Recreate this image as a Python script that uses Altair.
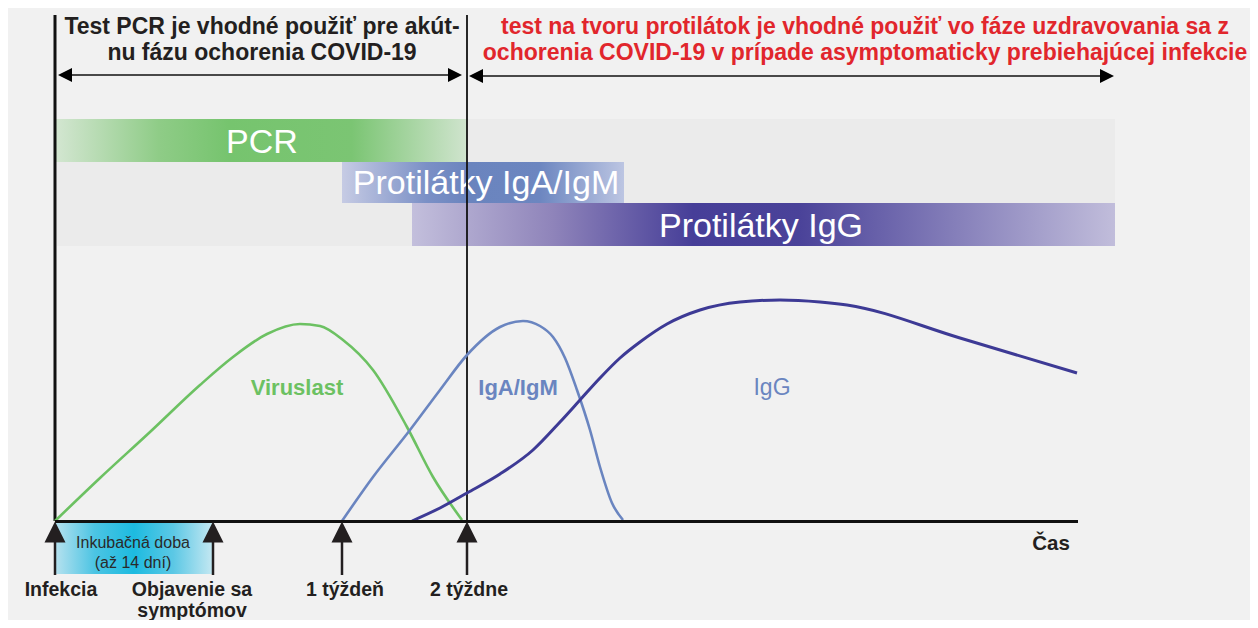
import altair as alt
import pandas as pd

# ---------------- data (diagram units: x = time position, y = level, top = 8) -------------
W, H = 1242, 612
X0, Y0 = 8, 8

# timeline marks
mark_x = [55, 213, 342, 467]
mark_labels = ["Infekcia", "Objavenie sa", "1 týždeň", "2 týždne"]
mark_labels2 = ["", "symptómov", "", ""]
mark_label_x = [61, 192, 345, 469]

# test-window bands
band_names = ["PCR", "Protilátky IgA/IgM", "Protilátky IgG"]
band_start = [56, 342, 412]
band_end = [467, 624, 1115]
band_top = [119, 162, 203]
band_bottom = [162, 203, 246]
band_label_x = [262, 486, 761]

# curves
vir_x = [55, 100, 150, 200, 233, 267, 300, 320, 343, 373, 407, 433, 462]
vir_y = [521, 478, 432, 385, 357, 334, 324, 326, 340, 370, 427, 477, 520]
iga_x = [342, 373, 410, 440, 467, 500, 523, 540, 553, 565, 577, 590, 600, 612, 623]
iga_y = [521, 477, 430, 390, 355, 327, 321, 326, 337, 358, 390, 430, 467, 503, 520]
igg_x = [412, 440, 467, 500, 533, 560, 580, 600, 620, 640, 667, 700, 740, 780, 820, 847, 960, 1077]
igg_y = [521, 508, 493, 474, 450, 422, 400, 378, 358, 342, 324, 310, 302, 300, 302, 305, 338, 373]
curve_names = ["Viruslast", "IgA/IgM", "IgG"]
curve_label_x = [297, 518, 772]
curve_colors = ["#6cc162", "#6a85c0", "#3d3a95"]
curve_label_colors = ["#6cc162", "#6a85c0", "#6a85c0"]

title_left = ["Test PCR je vhodné použiť pre akút-", "nu fázu ochorenia COVID-19"]
title_right = ["test na tvoru protilátok je vhodné použiť vo fáze uzdravovania sa z",
               "ochorenia COVID-19 v prípade asymptomaticky prebiehajúcej infekcie"]
incub_text = ["Inkubačná doba", "(až 14 dní)"]

FONT = "Liberation Sans"

xs = alt.Scale(domain=[X0, X0 + W], nice=False, zero=False)
ys = alt.Scale(domain=[Y0, Y0 + H], nice=False, zero=False, reverse=True)


def X(f):
    return alt.X(f, type="quantitative", scale=xs, axis=None)


def Y(f):
    return alt.Y(f, type="quantitative", scale=ys, axis=None)


def grad(stops):
    return alt.Gradient(gradient="linear", x1=0, x2=1, y1=0, y2=0,
                        stops=[alt.GradientStop(offset=o, color=c) for o, c in stops])


def rect(x1, x2, y1, y2, fill):
    df = pd.DataFrame({"x": [x1], "x2": [x2], "y": [y1], "y2": [y2]})
    return alt.Chart(df).mark_rect(color=fill, opacity=1).encode(
        x=X("x"), x2="x2", y=Y("y"), y2="y2")


def rules(df, color, width):
    return alt.Chart(df).mark_rule(color=color, strokeWidth=width).encode(
        x=X("x"), x2="x2", y=Y("y"), y2="y2")


def texts(df, size, color, weight="normal", align="center"):
    return alt.Chart(df).mark_text(font=FONT, fontSize=size, color=color, fontWeight=weight,
                                   align=align, baseline="alphabetic").encode(
        x=X("x"), y=Y("y"), text="text:N")


layers = []

# grey backdrop behind bands
layers.append(rect(57, band_end[2], band_top[0], band_bottom[2], "#ebebeb"))

band_grads = [
    grad([(0, "#d3e6d1"), (0.25, "#8fcc87"), (0.42, "#76c46e"), (0.72, "#7bc573"), (1, "#d0e4ce")]),
    grad([(0, "#c6cbe4"), (0.3, "#7b90c6"), (0.45, "#6a84be"), (0.7, "#6c86c0"), (1, "#bcc5e2")]),
    grad([(0, "#c3bfdc"), (0.2, "#8f84ba"), (0.4, "#463e98"), (0.55, "#4a4299"), (1, "#c1bddb")]),
]
for i in range(3):
    layers.append(rect(band_start[i], band_end[i], band_top[i], band_bottom[i], band_grads[i]))

band_txt = pd.DataFrame({"x": band_label_x, "y": [b - 9 for b in band_bottom], "text": band_names})
layers.append(texts(band_txt, 34, "white"))

# vertical separators
layers.append(rules(pd.DataFrame({"x": [55], "x2": [55], "y": [15], "y2": [521]}), "#111111", 3))
layers.append(rules(pd.DataFrame({"x": [467], "x2": [467], "y": [15], "y2": [521]}), "#111111", 1.8))

# horizontal double arrows
harrow = pd.DataFrame({"x": [62, 474], "x2": [458, 1108], "y": [75, 76], "y2": [75, 76]})
layers.append(rules(harrow, "#111111", 1.6))
lh = pd.DataFrame({"x": [65, 476], "y": [75, 76]})
rh = pd.DataFrame({"x": [455, 1107], "y": [75, 76]})
layers.append(alt.Chart(lh).mark_point(shape="M-1,0L1,-1L1,1Z", filled=True, size=196,
                                       color="#000000", opacity=1, strokeWidth=0).encode(x=X("x"), y=Y("y")))
layers.append(alt.Chart(rh).mark_point(shape="M1,0L-1,-1L-1,1Z", filled=True, size=196,
                                       color="#000000", opacity=1, strokeWidth=0).encode(x=X("x"), y=Y("y")))

# curves
curve_x = [vir_x, iga_x, igg_x]
curve_y = [vir_y, iga_y, igg_y]
curve_w = [2.6, 2.6, 3]
for i in range(3):
    df = pd.DataFrame({"x": curve_x[i], "y": curve_y[i]})
    layers.append(alt.Chart(df).mark_line(color=curve_colors[i], strokeWidth=curve_w[i],
                                          interpolate="monotone").encode(x=X("x"), y=Y("y")))

# time axis
layers.append(rules(pd.DataFrame({"x": [55], "x2": [1078], "y": [521.5], "y2": [521.5]}), "#111111", 3))

# incubation box
layers.append(rect(55, 213, 523, 574,
                   grad([(0, "#b7e2ef"), (0.25, "#4cc4e3"), (0.5, "#1dbbe0"), (0.75, "#5cc8e5"), (1, "#c5e8f2")])))
inc = pd.DataFrame({"x": [133, 133], "y": [548, 568], "text": incub_text})
layers.append(texts(inc, 16, "#2a2a2a"))

# up arrows
shaft = pd.DataFrame({"x": mark_x, "x2": mark_x, "y": [540] * 4, "y2": [575] * 4})
layers.append(rules(shaft, "#231f20", 2.5))
heads = pd.DataFrame({"x": mark_x, "y": [532] * 4})
layers.append(alt.Chart(heads).mark_point(shape="M0,-1L1,1L-1,1Z", filled=True, size=441,
                                          color="#231f20", opacity=1, strokeWidth=0).encode(x=X("x"), y=Y("y")))

# bottom labels
bl = pd.DataFrame({"x": mark_label_x + [mark_label_x[1]], "y": [596] * 4 + [617],
                   "text": mark_labels + [mark_labels2[1]]})
layers.append(texts(bl, 19.5, "#231f20", "bold"))
layers.append(texts(pd.DataFrame({"x": [1051], "y": [550], "text": ["Čas"]}), 20.5, "#231f20", "bold"))

# curve labels
for i in range(3):
    df = pd.DataFrame({"x": [curve_label_x[i]], "y": [395], "text": [curve_names[i]]})
    layers.append(texts(df, 22 if i < 2 else 23, curve_label_colors[i], "bold" if i < 2 else "normal"))

# titles
tl = pd.DataFrame({"x": [262, 262], "y": [34, 60], "text": title_left})
layers.append(texts(tl, 23, "#231f20", "bold"))
tr = pd.DataFrame({"x": [865, 865], "y": [34, 60], "text": title_right})
layers.append(texts(tr, 23, "#e1262c", "bold"))

chart = alt.layer(*layers).properties(
    width=W, height=H, background="#f1f1f1", padding=0,
    autosize=alt.AutoSizeParams(type="none"),
).configure_view(stroke=None)

chart.save("out.html", embed_options={"renderer": "svg", "actions": False})
